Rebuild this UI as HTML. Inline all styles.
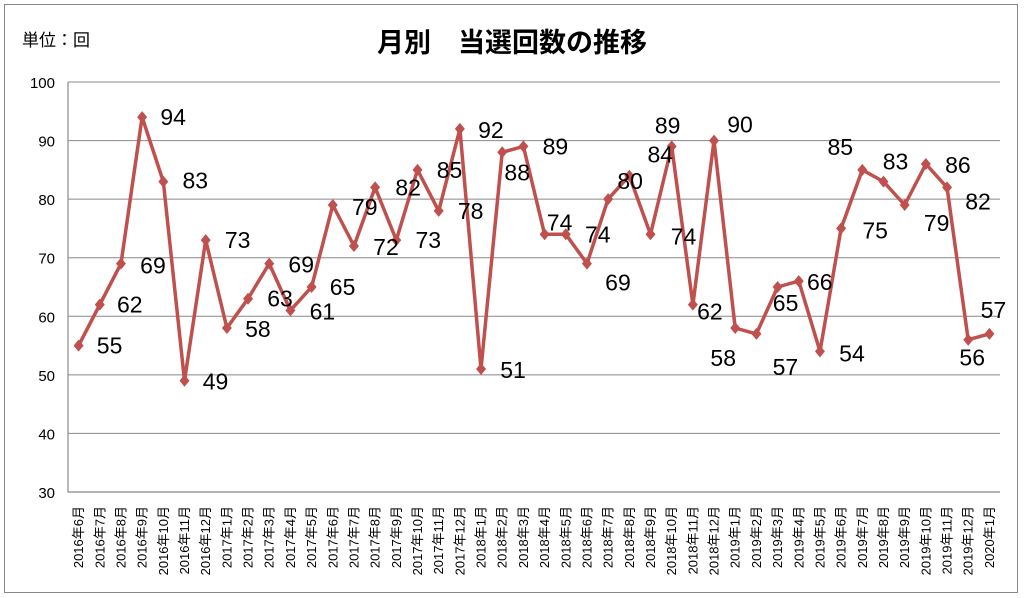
<!DOCTYPE html>
<html><head><meta charset="utf-8"><style>
html,body{margin:0;padding:0;background:#fff;}
svg{display:block;font-family:"Liberation Sans","Noto Sans CJK JP",sans-serif;}
</style></head><body>
<svg id="chart" width="1024" height="598">
<rect x="4.5" y="4.5" width="1013" height="588" fill="#fff" stroke="#888" stroke-width="1"/>
<text x="512" y="52" text-anchor="middle" font-size="27" font-weight="bold" fill="#000">月別　当選回数の推移</text>
<text x="22" y="46" font-size="17" fill="#000">単位：回</text>
<g id="grid"></g><g id="yticks"></g><g id="xticks"></g><g id="series"></g><g id="labels"></g>
</svg>
<script>
const categories = ["2016年6月","2016年7月","2016年8月","2016年9月","2016年10月","2016年11月","2016年12月","2017年1月","2017年2月","2017年3月","2017年4月","2017年5月","2017年6月","2017年7月","2017年8月","2017年9月","2017年10月","2017年11月","2017年12月","2018年1月","2018年2月","2018年3月","2018年4月","2018年5月","2018年6月","2018年7月","2018年8月","2018年9月","2018年10月","2018年11月","2018年12月","2019年1月","2019年2月","2019年3月","2019年4月","2019年5月","2019年6月","2019年7月","2019年8月","2019年9月","2019年10月","2019年11月","2019年12月","2020年1月"];
const values = [55,62,69,94,83,49,73,58,63,69,61,65,79,72,82,73,85,78,92,51,88,89,74,74,69,80,84,74,89,62,90,58,57,65,66,54,75,85,83,79,86,82,56,57];
const yTicks = [30,40,50,60,70,80,90,100];
// label offsets (styling) relative to each point: [dx,dy]
const labelOffsets = [[31,0],[30,0],[32,2],[31,0],[32,-1],[31,1],[32,0],[31,1],[32,0],[32,1],[32,1],[31,0],[32,2],[32,1],[33,0],[32,0],[32,0],[32,0],[31,1],[32,1],[15,20],[32,0],[15,-12],[32,0],[31,19],[22,-18],[31,-21],[33,2],[-4,-21],[17,7],[26,-16],[-12,30],[29,33],[8,16],[21,1],[32,2],[34,2],[-22,-23],[12,-20],[32,18],[32,1],[31,14],[4,18],[4,-24]];
const NS="http://www.w3.org/2000/svg";
const L=68,R=1000,T=82,B=492,yMin=30,yMax=100;
const band=(R-L)/categories.length;
const xs=i=>L+band*(i+0.5);
const ys=v=>B-(v-yMin)/(yMax-yMin)*(B-T);
function mk(tag,attrs,parent){const e=document.createElementNS(NS,tag);for(const k in attrs)e.setAttribute(k,attrs[k]);document.getElementById(parent).appendChild(e);return e;}
yTicks.forEach(t=>{
  if(t>yMin){const g=mk('line',{x1:L,x2:R,y1:ys(t),y2:ys(t),stroke:'#888','stroke-width':1},'grid');
  
  }
  const tx=mk('text',{x:55,y:ys(t)+6,'text-anchor':'end','font-size':15,fill:'#000'},'yticks');
  tx.textContent=t;
  
  
});
const ax=mk('path',{d:`M${L} ${T} V${B} H${R}`,fill:'none',stroke:'#888','stroke-width':1.2},'grid');


categories.forEach((c,i)=>{
  const x=xs(i)+4.5;
  const tx=mk('text',{x:0,y:0,transform:`translate(${x},506) rotate(-90)`,'text-anchor':'end','font-size':13,fill:'#000'},'xticks');
  tx.textContent=c;
  
  
});
const pts=values.map((v,i)=>xs(i).toFixed(1)+','+ys(v).toFixed(1)).join(' ');
const pl=mk('polyline',{points:pts,fill:'none',stroke:'#c0504d','stroke-width':3.5,'stroke-linejoin':'round'},'series');


values.forEach((v,i)=>{
  const x=xs(i),y=ys(v);
  const m=mk('polygon',{points:`${x},${y-6} ${x+5},${y} ${x},${y+6} ${x-5},${y}`,fill:'#c0504d'},'series');
  
  
  const o=labelOffsets[i]||[31,0];
  const t=mk('text',{x:x+o[0],y:y+o[1]+8,'text-anchor':'middle','font-size':23,fill:'#000'},'labels');
  t.textContent=v;
  
  
});
</script>
</body></html>
